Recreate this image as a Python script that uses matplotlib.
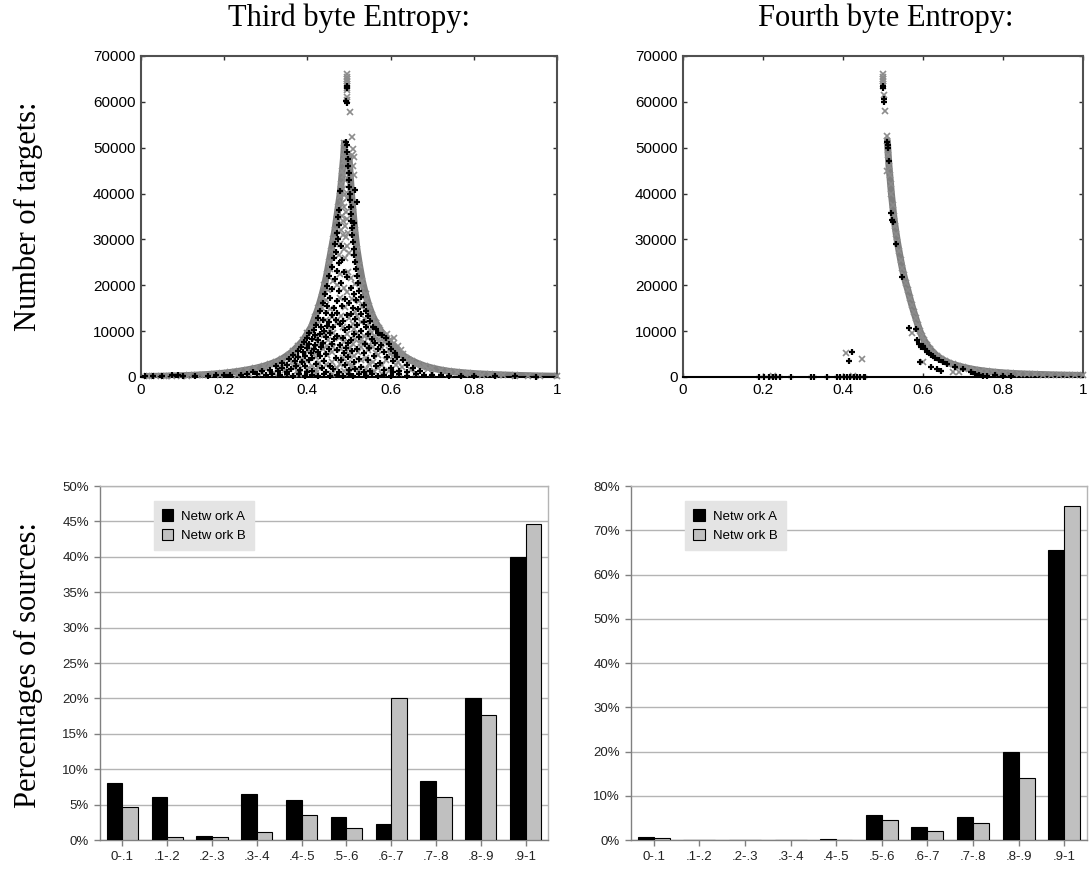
import matplotlib
matplotlib.use("Agg")
import matplotlib.pyplot as plt
import numpy as np

# ---------------- data ----------------
categories = ["0-.1", ".1-.2", ".2-.3", ".3-.4", ".4-.5", ".5-.6", ".6-.7", ".7-.8", ".8-.9", ".9-1"]
third_netA = [8.0, 6.1, 0.6, 6.5, 5.7, 3.3, 2.2, 8.3, 20.0, 40.0]
third_netB = [4.6, 0.4, 0.4, 1.1, 3.6, 1.7, 20.0, 6.1, 17.6, 44.7]
fourth_netA = [0.6, 0.1, 0.1, 0.1, 0.3, 5.6, 3.0, 5.3, 20.0, 65.5]
fourth_netB = [0.4, 0.0, 0.1, 0.0, 0.1, 4.5, 2.0, 3.8, 14.1, 75.5]
legend_labels = ["Netw ork A", "Netw ork B"]

# third byte: network B envelope (left / right edges of the gray band)
third_B_left = [(0.489, 51000), (0.487, 48000), (0.484, 45000), (0.481, 42000), (0.478, 39500),
                (0.474, 37000), (0.470, 34500), (0.466, 32000), (0.462, 30000), (0.457, 27500),
                (0.452, 25000), (0.447, 22500), (0.441, 20000), (0.434, 17500), (0.426, 15000),
                (0.418, 13000), (0.410, 11000), (0.400, 9500), (0.390, 8000), (0.378, 6800),
                (0.366, 5700), (0.355, 4900), (0.340, 4000), (0.325, 3300), (0.310, 2800),
                (0.295, 2350), (0.275, 1900), (0.255, 1550), (0.235, 1250), (0.215, 1000),
                (0.195, 800), (0.175, 650), (0.155, 520), (0.135, 420), (0.115, 340),
                (0.095, 280), (0.075, 220), (0.055, 180), (0.035, 150), (0.015, 120)]
third_B_right = [(0.500, 48000), (0.503, 44000), (0.506, 40000), (0.510, 36000), (0.514, 32000),
                 (0.519, 28000), (0.525, 24500), (0.532, 21000), (0.540, 18000), (0.548, 15500),
                 (0.556, 13500), (0.565, 11800), (0.575, 10200), (0.585, 9000), (0.595, 7800),
                 (0.605, 6800), (0.615, 5800), (0.625, 5000), (0.638, 4200), (0.652, 3500),
                 (0.667, 2900), (0.682, 2400), (0.700, 1950), (0.720, 1550), (0.740, 1250),
                 (0.760, 1050), (0.785, 850), (0.810, 700), (0.840, 560), (0.870, 450),
                 (0.900, 360), (0.930, 290), (0.960, 230), (1.000, 170)]
third_B_pts = [(0.494, 66000), (0.494, 65500), (0.495, 65000), (0.494, 64500), (0.495, 64000),
               (0.494, 63500), (0.495, 63000), (0.494, 62500), (0.495, 61000), (0.494, 60500),
               (0.503, 57800), (0.507, 52400), (0.509, 49800), (0.508, 48500),
               (0.490, 49000), (0.489, 47000), (0.492, 46000), (0.488, 44000), (0.491, 43000),
               (0.486, 41000), (0.490, 40000), (0.494, 39000), (0.484, 38000), (0.488, 37000),
               (0.492, 36000), (0.482, 35000), (0.486, 34000), (0.490, 33000), (0.495, 34500),
               (0.480, 32000), (0.485, 31000), (0.492, 30500), (0.497, 31500), (0.478, 29000),
               (0.488, 28000), (0.496, 28500), (0.476, 26500), (0.490, 26000), (0.500, 27000),
               (0.512, 48000), (0.510, 46000), (0.511, 44000),
               (0.455, 23500), (0.478, 22500), (0.462, 21000), (0.498, 23000), (0.505, 21500),
               (0.450, 19000), (0.470, 20000), (0.488, 19500), (0.515, 20200), (0.528, 19800),
               (0.445, 16800), (0.478, 17200), (0.495, 18500), (0.508, 17000), (0.525, 16500),
               (0.540, 16800), (0.435, 15000), (0.455, 14800), (0.490, 15200), (0.515, 14200),
               (0.532, 15300), (0.548, 14000), (0.460, 13000), (0.480, 13400), (0.500, 12800),
               (0.520, 13300), (0.538, 12700), (0.555, 12800), (0.428, 12000), (0.445, 12500),
               (0.472, 11800), (0.510, 11600), (0.528, 11900), (0.548, 11500), (0.565, 11800),
               (0.455, 10500), (0.485, 10900), (0.512, 10400), (0.550, 10200), (0.572, 10600),
               (0.410, 9800), (0.440, 9200), (0.462, 9700), (0.495, 9300), (0.520, 9600),
               (0.535, 9000), (0.552, 9700), (0.562, 9000), (0.578, 8800), (0.592, 9300),
               (0.420, 8400), (0.450, 8000), (0.475, 8600), (0.515, 8300), (0.530, 8100),
               (0.545, 8500), (0.565, 8300), (0.575, 7900), (0.598, 8000), (0.608, 8500),
               (0.395, 7000), (0.428, 7300), (0.448, 6800), (0.488, 7600), (0.510, 7200),
               (0.528, 7500), (0.548, 7000), (0.555, 7700), (0.585, 7600), (0.605, 7100),
               (0.618, 6700), (0.405, 5900), (0.438, 6000), (0.462, 6600), (0.480, 6100),
               (0.502, 6300), (0.530, 6500), (0.558, 6600), (0.580, 6300), (0.595, 5900),
               (0.625, 5800), (0.395, 5000), (0.418, 5300), (0.458, 5400), (0.500, 5100),
               (0.522, 5400), (0.545, 5800), (0.565, 5300), (0.598, 5100), (0.630, 5000),
               (0.372, 4600), (0.388, 4000), (0.420, 4300), (0.448, 4700), (0.485, 4100),
               (0.512, 4600), (0.540, 4200), (0.570, 4700), (0.605, 4500), (0.635, 4200),
               (0.645, 3800), (0.362, 3300), (0.398, 3500), (0.428, 3000), (0.460, 3300),
               (0.498, 3100), (0.528, 3600), (0.558, 3300), (0.590, 3800), (0.618, 3200),
               (0.650, 3300), (0.345, 2800), (0.380, 2700), (0.412, 2400), (0.445, 2600),
               (0.478, 2900), (0.510, 2500), (0.548, 2900), (0.580, 2700), (0.612, 2600),
               (0.662, 2700), (0.330, 2000), (0.368, 2100), (0.400, 1800), (0.425, 2100),
               (0.470, 2000), (0.505, 2100), (0.540, 1800), (0.570, 2000), (0.628, 2100),
               (0.675, 2200), (0.300, 1700), (0.345, 1500), (0.375, 1300), (0.420, 1600),
               (0.488, 1300), (0.525, 1600), (0.560, 1400), (0.595, 1200), (0.650, 1500),
               (0.690, 1700), (0.020, 200), (0.060, 250), (0.110, 300), (0.150, 350),
               (0.190, 500), (0.230, 450), (0.260, 700), (0.290, 800), (0.320, 900),
               (0.350, 800), (0.380, 700), (0.420, 800), (0.460, 700), (0.500, 900),
               (0.540, 800), (0.580, 700), (0.620, 800), (0.660, 900), (0.700, 800),
               (0.740, 700), (0.780, 600), (0.820, 500), (0.860, 400), (0.900, 300)]
third_A_pts = [(0.494, 63500), (0.495, 63000), (0.493, 60200), (0.494, 59800),
               (0.492, 51200), (0.494, 50500), (0.496, 49000), (0.497, 47500), (0.498, 46000),
               (0.499, 44500), (0.500, 43000), (0.501, 41500), (0.502, 40000), (0.503, 38500),
               (0.504, 37000), (0.505, 35500), (0.506, 34000), (0.507, 32500), (0.508, 31000),
               (0.510, 29500), (0.511, 28000), (0.513, 26500), (0.515, 25000), (0.517, 23500),
               (0.519, 22000), (0.521, 20500), (0.515, 40800), (0.519, 38200), (0.512, 33500),
               (0.478, 40500), (0.475, 36500), (0.473, 34800), (0.477, 33200), (0.470, 31500),
               (0.474, 30200), (0.466, 29000), (0.480, 28500), (0.469, 27200), (0.463, 26000),
               (0.484, 25500), (0.475, 24800),
               (0.458, 24000), (0.470, 23200), (0.488, 22800), (0.452, 22000), (0.466, 21300),
               (0.481, 20600), (0.495, 21800), (0.447, 19800), (0.460, 19200), (0.475, 18700),
               (0.505, 19500), (0.512, 18200), (0.525, 18800), (0.442, 18000), (0.455, 17300),
               (0.470, 16600), (0.490, 17000), (0.500, 16200), (0.518, 16800), (0.530, 17500),
               (0.535, 15800), (0.438, 16200), (0.448, 15500), (0.463, 15100), (0.482, 15400),
               (0.510, 15000), (0.522, 14800), (0.540, 14500),
               (0.430, 14500), (0.445, 14000), (0.458, 13600), (0.472, 13900), (0.495, 13500),
               (0.505, 13800), (0.528, 13700), (0.545, 13200), (0.425, 12800), (0.437, 12400),
               (0.452, 12000), (0.468, 12500), (0.485, 12200), (0.515, 12600), (0.535, 12100),
               (0.550, 12300), (0.420, 11400), (0.432, 11000), (0.448, 11200), (0.462, 10800),
               (0.478, 11500), (0.500, 11000), (0.520, 11300), (0.540, 10900), (0.558, 11000),
               (0.565, 10500), (0.415, 10200), (0.440, 10000), (0.490, 10300), (0.530, 10100),
               (0.405, 9600), (0.418, 9200), (0.430, 9400), (0.455, 9500), (0.470, 9000),
               (0.512, 9300), (0.545, 9400), (0.570, 9600), (0.580, 9100), (0.398, 8600),
               (0.412, 8300), (0.425, 8000), (0.445, 8700), (0.465, 8200), (0.485, 8500),
               (0.505, 8000), (0.525, 8800), (0.555, 8200), (0.588, 8400), (0.392, 7600),
               (0.405, 7300), (0.418, 7000), (0.438, 7500), (0.460, 7200), (0.478, 7000),
               (0.498, 7400), (0.538, 7100), (0.562, 7500), (0.578, 7000), (0.595, 7300),
               (0.385, 6600), (0.398, 6300), (0.415, 6000), (0.432, 6500), (0.452, 6200),
               (0.470, 5900), (0.492, 6400), (0.520, 6000), (0.548, 6300), (0.570, 6100),
               (0.600, 6200), (0.378, 5700), (0.390, 5400), (0.408, 5200), (0.425, 5500),
               (0.445, 5100), (0.487, 5300), (0.508, 5600), (0.535, 5200), (0.585, 5400),
               (0.610, 5300),
               (0.365, 4700), (0.378, 4300), (0.395, 4500), (0.412, 4100), (0.430, 4600),
               (0.468, 4200), (0.498, 4400), (0.525, 4000), (0.560, 4500), (0.592, 4300),
               (0.615, 4400), (0.355, 3900), (0.370, 3500), (0.388, 3200), (0.405, 3700),
               (0.440, 3400), (0.480, 3600), (0.512, 3300), (0.545, 3700), (0.575, 3100),
               (0.605, 3500), (0.630, 3600), (0.340, 3100), (0.352, 2700), (0.372, 2500),
               (0.395, 2300), (0.420, 2800), (0.455, 2400), (0.490, 2600), (0.530, 2200),
               (0.565, 2500), (0.600, 2000), (0.640, 2700), (0.325, 2500), (0.340, 2000),
               (0.360, 1800), (0.382, 1600), (0.410, 1400), (0.435, 1900), (0.462, 1700),
               (0.500, 1500), (0.515, 1800), (0.550, 1300), (0.585, 1600), (0.620, 1400),
               (0.655, 1900), (0.310, 1600), (0.290, 1300), (0.270, 1100), (0.330, 1200),
               (0.352, 1100), (0.398, 1000), (0.445, 1100), (0.475, 1000), (0.535, 1000),
               (0.605, 1000), (0.640, 1100), (0.670, 1200),
               (0.010, 300), (0.030, 250), (0.050, 200), (0.075, 350), (0.090, 400),
               (0.100, 300), (0.130, 200), (0.160, 300), (0.180, 450), (0.200, 350),
               (0.215, 500), (0.240, 400), (0.255, 550), (0.280, 600), (0.300, 500),
               (0.315, 700), (0.335, 400), (0.350, 650), (0.365, 300), (0.380, 600),
               (0.395, 200), (0.410, 500), (0.425, 250), (0.440, 650), (0.455, 300),
               (0.470, 500), (0.485, 200), (0.500, 700), (0.510, 300), (0.525, 550),
               (0.540, 250), (0.555, 600), (0.570, 300), (0.585, 500), (0.600, 200),
               (0.620, 550), (0.640, 300), (0.660, 650), (0.680, 400), (0.700, 500),
               (0.720, 350), (0.740, 300), (0.770, 250), (0.800, 200), (0.850, 150),
               (0.900, 150), (0.950, 100)]

# fourth byte
fourth_B_band = [(0.511, 51500), (0.513, 48500), (0.515, 46000), (0.517, 44000), (0.519, 42000),
                 (0.521, 40000), (0.524, 37500), (0.527, 35000), (0.530, 33000), (0.533, 31200),
                 (0.536, 29500), (0.540, 27500), (0.544, 25600), (0.548, 23800), (0.552, 22200),
                 (0.557, 20500), (0.562, 19000), (0.567, 17300), (0.572, 15700), (0.577, 14200),
                 (0.582, 12800), (0.587, 11400), (0.592, 10100), (0.597, 9000), (0.603, 8000),
                 (0.610, 7000), (0.618, 6100), (0.626, 5300), (0.635, 4600), (0.645, 4000),
                 (0.655, 3500), (0.665, 3100), (0.675, 2750), (0.687, 2450), (0.700, 2150),
                 (0.715, 1850), (0.730, 1600), (0.745, 1400), (0.760, 1230), (0.775, 1100),
                 (0.790, 980), (0.805, 880), (0.820, 800), (0.840, 710), (0.860, 640),
                 (0.880, 580), (0.900, 530), (0.920, 480), (0.940, 440), (0.960, 400),
                 (0.980, 370), (1.000, 340)]
fourth_B_pts = [(0.499, 66000), (0.499, 65500), (0.499, 65000), (0.500, 64500), (0.499, 64000),
                (0.500, 63500), (0.502, 61400), (0.506, 57900), (0.509, 52500), (0.511, 44900),
                (0.408, 5140), (0.448, 3900), (0.572, 9540), (0.601, 3300), (0.676, 1150),
                (0.689, 1000), (0.225, 300), (0.425, 200)]
fourth_A_pts = [(0.500, 63500), (0.501, 63000), (0.503, 60700), (0.503, 59900), (0.511, 51200),
                (0.512, 50600), (0.512, 50000), (0.514, 47000), (0.519, 35860), (0.523, 34300),
                (0.525, 33900), (0.532, 29000), (0.548, 21760), (0.564, 10770), (0.582, 10400),
                (0.593, 3320), (0.621, 2100), (0.635, 1740), (0.644, 1370), (0.585, 8000),
                (0.590, 7200), (0.595, 6500), (0.600, 6800), (0.605, 6000), (0.610, 5500),
                (0.615, 5200), (0.620, 4800), (0.625, 4500), (0.630, 4200), (0.640, 3700),
                (0.650, 3200), (0.660, 2800), (0.680, 2200), (0.700, 1700), (0.720, 1100),
                (0.730, 700), (0.740, 400), (0.750, 300), (0.760, 200), (0.780, 500),
                (0.800, 300), (0.820, 200), (0.423, 5360), (0.416, 3540),
                (0.189, 100), (0.202, 100), (0.214, 100), (0.226, 100), (0.233, 100),
                (0.243, 100), (0.270, 100), (0.319, 100), (0.328, 100), (0.361, 100),
                (0.386, 100), (0.393, 100), (0.402, 100), (0.410, 100), (0.418, 100),
                (0.427, 100), (0.435, 100), (0.442, 100), (0.452, 100), (0.456, 100)]

# ---------------- figure ----------------
W, H = 1091, 871
fig = plt.figure(figsize=(W / 100, H / 100), dpi=100)
fig.patch.set_facecolor("white")

SANS = ["Liberation Sans", "DejaVu Sans"]
SERIF = ["Liberation Serif", "DejaVu Serif"]

def px_axes(l, t, r, b):
    return fig.add_axes([l / W, 1 - b / H, (r - l) / W, (b - t) / H])

GRAY_BAND = "#7f7f7f"
GRAY_X = "#8c8c8c"

def unpack(pairs):
    return [p[0] for p in pairs], [p[1] for p in pairs]

def style_scatter(ax):
    ax.set_xlim(0, 1)
    ax.set_ylim(0, 70000)
    ax.set_xticks([0, 0.2, 0.4, 0.6, 0.8, 1])
    ax.set_xticklabels(["0", "0.2", "0.4", "0.6", "0.8", "1"])
    ax.set_yticks(range(0, 70001, 10000))
    ax.set_yticklabels([str(v) for v in range(0, 70001, 10000)])
    for lab in ax.get_xticklabels() + ax.get_yticklabels():
        lab.set_family(SANS)
        lab.set_fontsize(11)
    ax.tick_params(direction="in", length=3, width=1, color="#303030",
                   top=True, right=True, pad=4)
    for s in ax.spines.values():
        s.set_color("#505050")
        s.set_linewidth(1.5)
    ax.spines["bottom"].set_color("black")

def scatter_B(ax, pairs, band=False):
    x, y = unpack(pairs)
    if band:
        ax.plot(x, y, "-", color=GRAY_BAND, lw=5, solid_capstyle="round", zorder=2)
    ax.plot(x, y, "x", color=GRAY_X, ms=4.5, mew=1.2, zorder=3, clip_on=False)

def scatter_A(ax, pairs):
    x, y = unpack(pairs)
    ax.plot(x, y, "+", color="black", ms=5, mew=1.6, zorder=4, clip_on=False)

# top-left: third byte
ax1 = px_axes(141, 56, 557, 377)
scatter_B(ax1, third_B_left, band=True)
scatter_B(ax1, third_B_right, band=True)
scatter_B(ax1, third_B_pts)
scatter_A(ax1, third_A_pts)
style_scatter(ax1)

# top-right: fourth byte
ax2 = px_axes(683, 56, 1083, 377)
scatter_B(ax2, fourth_B_band, band=True)
scatter_B(ax2, fourth_B_pts)
scatter_A(ax2, fourth_A_pts)
style_scatter(ax2)

fig.text((141 + 557) / 2 / W, 1 - 18 / H, "Third byte Entropy:", family=SERIF,
         fontsize=22, ha="center", va="center")
fig.text((683 + 1089) / 2 / W, 1 - 18 / H, "Fourth byte Entropy:", family=SERIF,
         fontsize=22, ha="center", va="center")
fig.text(28 / W, 1 - 216 / H, "Number of targets:", family=SERIF, fontsize=22,
         rotation=90, ha="center", va="center")
fig.text(28 / W, 1 - 665 / H, "Percentages of sources:", family=SERIF, fontsize=22,
         rotation=90, ha="center", va="center")

# bottom bar charts
def bar_panel(ax, a, b, ymax, step):
    x = np.arange(len(categories))
    w = 0.35
    ax.bar(x - w / 2, a, width=w, color="black", edgecolor="black", linewidth=0.8,
           label=legend_labels[0], zorder=3)
    ax.bar(x + w / 2, b, width=w, color="#c0c0c0", edgecolor="black", linewidth=0.8,
           label=legend_labels[1], zorder=3)
    ax.set_xlim(-0.5, len(categories) - 0.5)
    ax.set_ylim(0, ymax)
    ax.set_xticks(x)
    ax.set_xticklabels(categories)
    yt = list(range(0, ymax + 1, step))
    ax.set_yticks(yt)
    ax.set_yticklabels([f"{v}%" for v in yt])
    for lab in ax.get_xticklabels() + ax.get_yticklabels():
        lab.set_family(SANS)
        lab.set_fontsize(9.5)
        lab.set_color("#222222")
    ax.yaxis.grid(True, color="#b4b4b4", linewidth=1.0, zorder=0)
    ax.set_axisbelow(True)
    ax.tick_params(axis="both", length=4, width=1, color="#808080", pad=4)
    for side in ["top", "right"]:
        ax.spines[side].set_color("#b4b4b4")
        ax.spines[side].set_linewidth(1.0)
    ax.spines["left"].set_color("#808080")
    ax.spines["bottom"].set_color("#808080")
    ax.spines["left"].set_linewidth(1.0)
    ax.spines["bottom"].set_linewidth(1.0)
    leg = ax.legend(loc="upper left", bbox_to_anchor=(0.105, 0.975), frameon=True,
                    prop={"family": SANS, "size": 9.5}, handlelength=0.9, handleheight=0.95,
                    handletextpad=0.6, borderpad=0.6, labelspacing=0.45, fancybox=False)
    leg.get_frame().set_facecolor("#e4e4e4")
    leg.get_frame().set_edgecolor("#e4e4e4")
    leg.get_frame().set_alpha(1)

ax3 = px_axes(100, 486, 548, 840)
bar_panel(ax3, third_netA, third_netB, 50, 5)
ax4 = px_axes(631, 486, 1087, 840)
bar_panel(ax4, fourth_netA, fourth_netB, 80, 10)

fig.savefig("out.png", dpi=100, facecolor="white")
